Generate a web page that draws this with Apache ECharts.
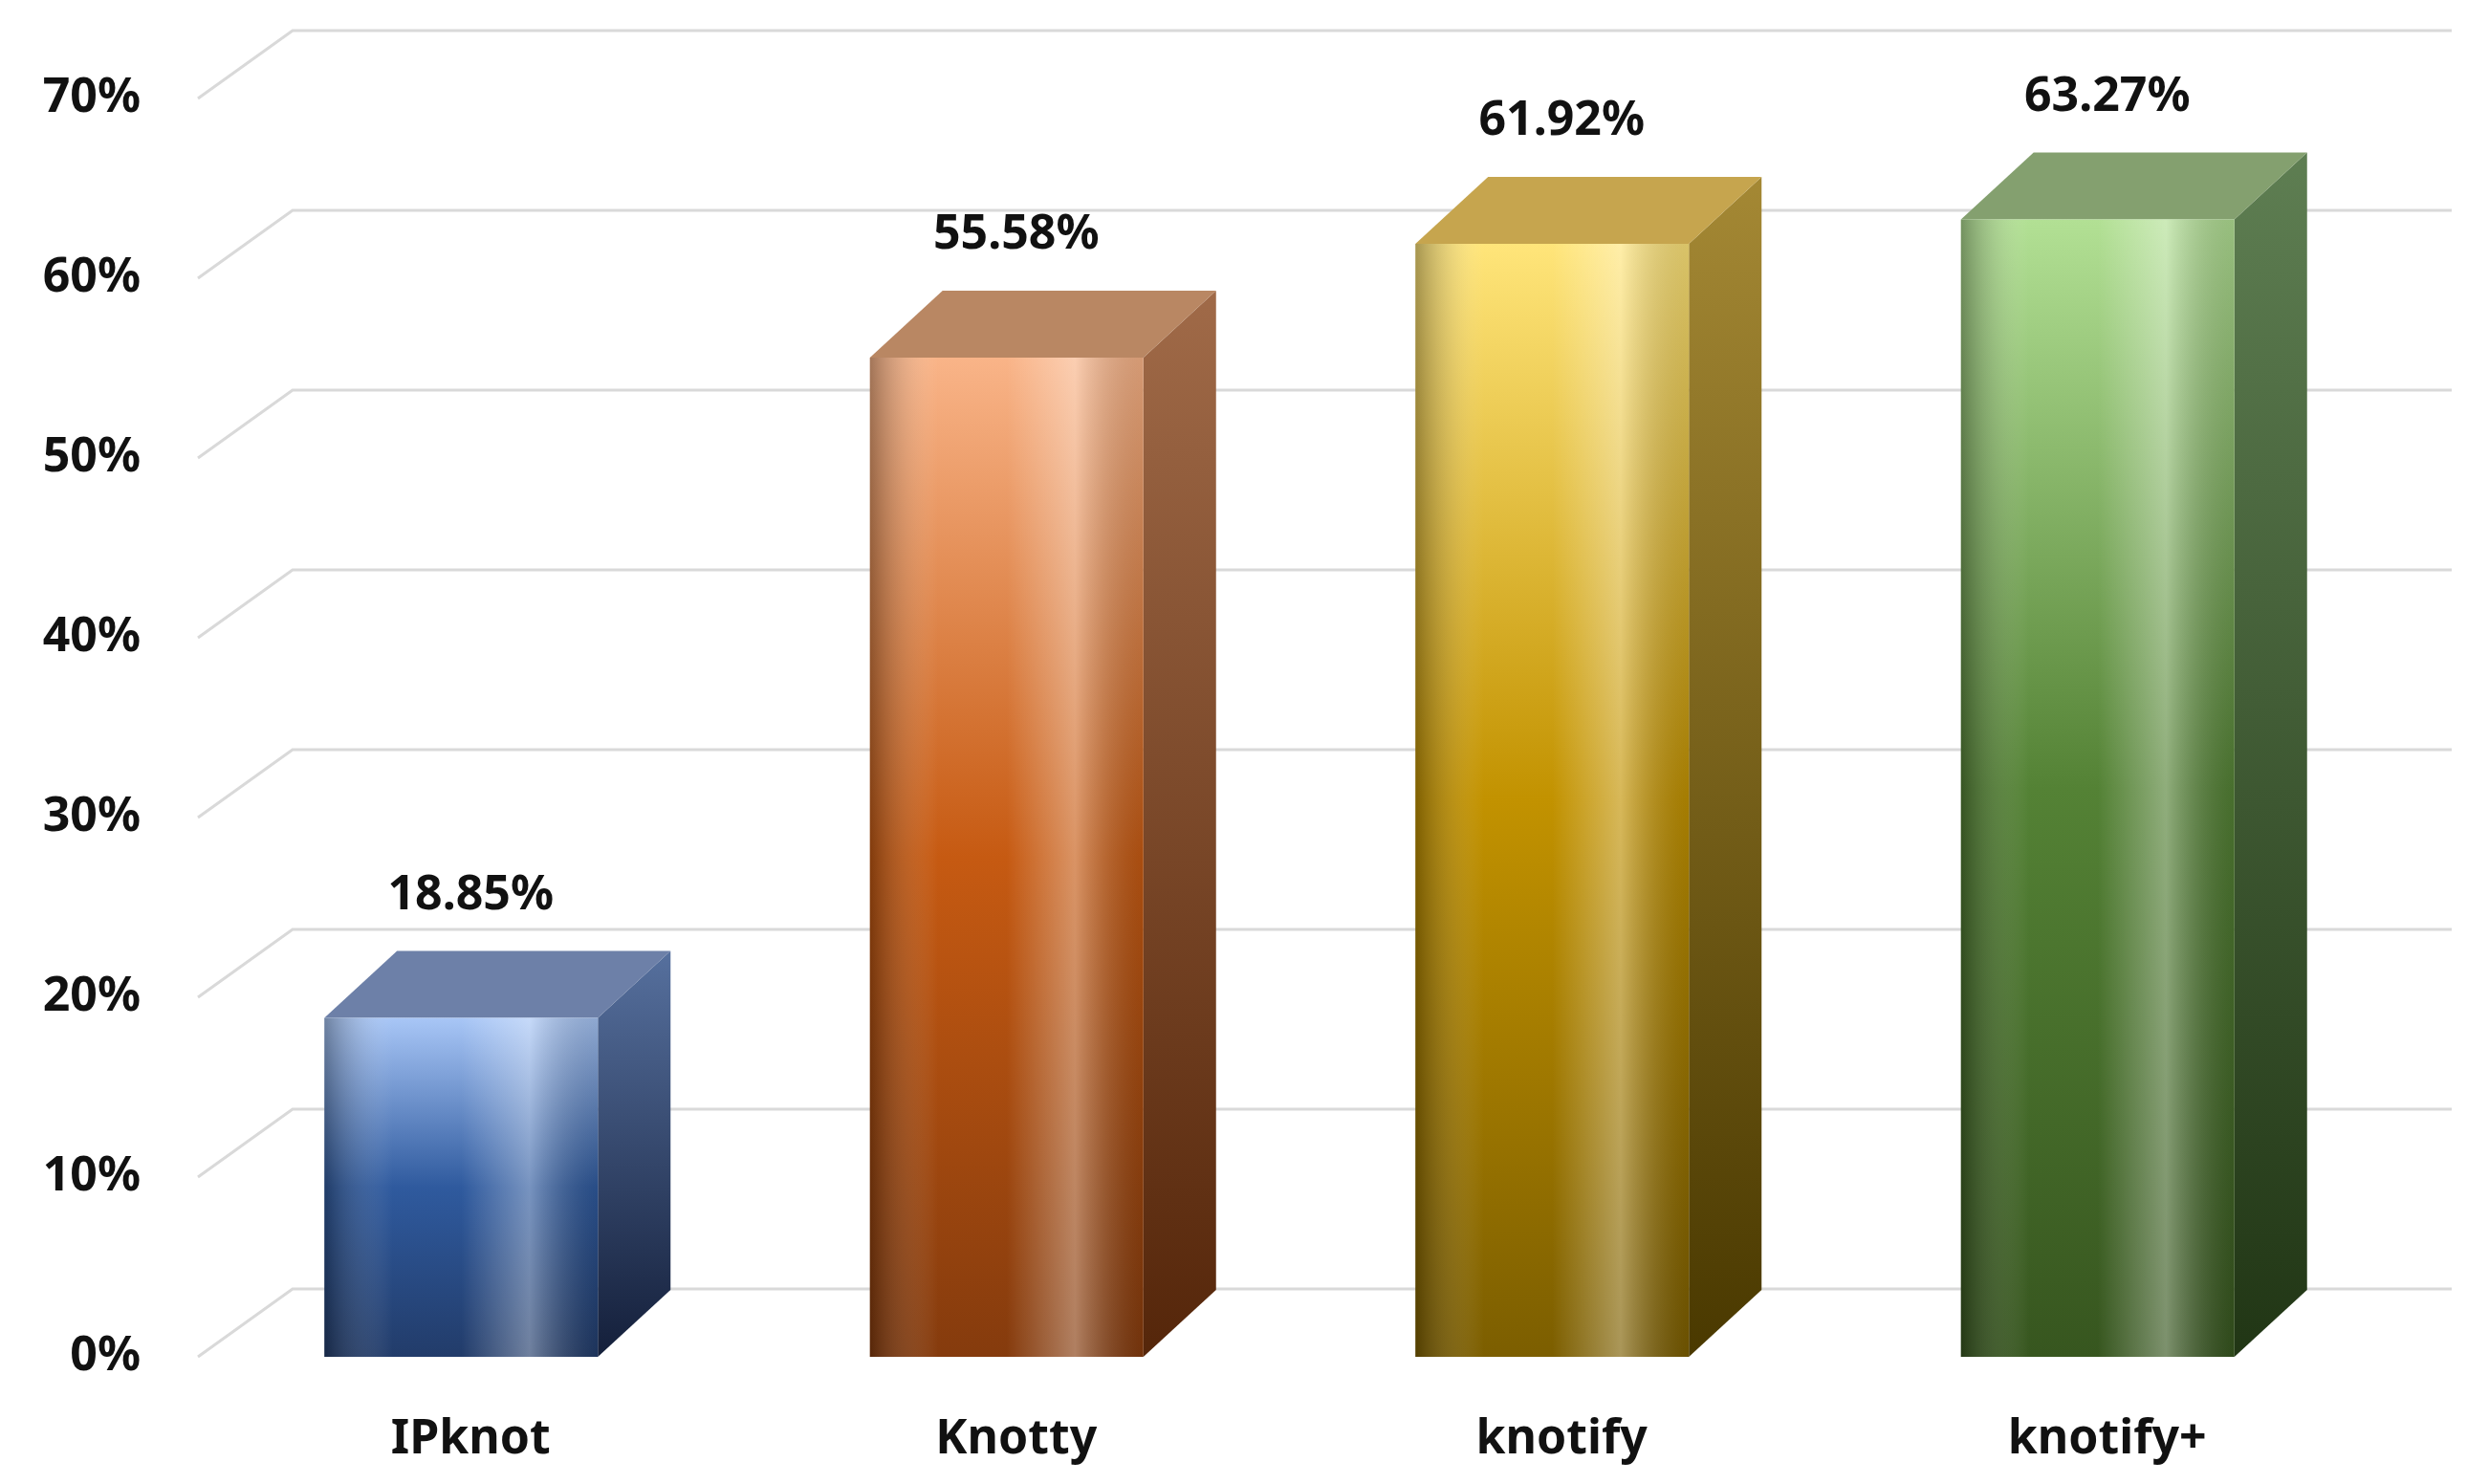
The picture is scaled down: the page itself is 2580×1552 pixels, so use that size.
<!DOCTYPE html>
<html>
<head>
<meta charset="utf-8">
<script src="https://cdn.jsdelivr.net/npm/echarts@6/dist/echarts.min.js"></script>
<style>html,body{margin:0;padding:0;background:#fff}#main{width:2580px;height:1552px}</style>
</head>
<body>
<div id="main"></div>
<script>
var categories = ['IPknot', 'Knotty', 'knotify', 'knotify+'];
var values = [18.85, 55.58, 61.92, 63.27];
var ticks = [0, 10, 20, 30, 40, 50, 60, 70];

// front top / mid / bottom, side top / bottom, top face
var palette = [
	['#a8c6f6', '#2f5a9e', '#223c6a', '#56709e', '#141f3a', '#6d80a8'],
	['#f9b488', '#c65a12', '#853b0d', '#a06a48', '#55260a', '#b98763'],
	['#ffe57a', '#c29200', '#7c5e00', '#a48834', '#4a3900', '#c6a54e'],
	['#b2e094', '#548235', '#37561f', '#5e7e52', '#213615', '#84a06f']
];

var FONT = '"Noto Sans", "DejaVu Sans", sans-serif';
var DX = 76, DY = -70, BW = 286;
var GDX = 99, GDY = -71;

var myChart = echarts.init(document.getElementById('main'));

function grad(x1, y1, x2, y2, stops){
	return new echarts.graphic.LinearGradient(x1, y1, x2, y2, stops.map(function(c, i){
		return {offset: i / (stops.length - 1), color: c};
	}));
}

var option = {
	backgroundColor: '#fff',
	animation: false,
	grid: {left: 207, right: 91, top: 103, bottom: 133},
	xAxis: {
		type: 'category',
		data: categories,
		axisLine: {show: false},
		axisTick: {show: false},
		axisLabel: {margin: 62, fontSize: 50, fontWeight: 'bold', color: '#111', fontFamily: FONT}
	},
	yAxis: {
		type: 'value',
		min: 0, max: 70, interval: 10,
		splitLine: {show: false},
		axisLine: {show: false},
		axisTick: {show: false},
		axisLabel: {margin: 60, fontSize: 50, fontWeight: 'bold', color: '#111', fontFamily: FONT,
			formatter: '{value}%'}
	},
	series: [{
		type: 'custom',
		z: 1,
		silent: true,
		data: ticks.map(function(t){ return [0, t]; }),
		renderItem: function(params, api){
			var cs = params.coordSys;
			var p = api.coord([0, api.value(1)]);
			var x = cs.x, y = p[1];
			return {
				type: 'polyline',
				shape: {points: [[x, y], [x + GDX, y + GDY], [cs.x + cs.width + 75, y + GDY]]},
				style: {stroke: '#d9d9d9', lineWidth: 3, fill: null}
			};
		}
	}, {
		type: 'custom',
		z: 2,
		data: values.map(function(v, i){ return [i, v]; }),
		renderItem: function(params, api){
			var i = api.value(0);
			var top = api.coord([i, api.value(1)]);
			var base = api.coord([i, 0]);
			var c = palette[i];
			var xl = top[0] - BW / 2 - 10, xr = xl + BW;
			var yt = top[1], yb = base[1];
			return {
				type: 'group',
				children: [{
					type: 'polygon',
					shape: {points: [[xr, yt], [xr + DX, yt + DY], [xr + DX, yb + DY], [xr, yb]]},
					style: {fill: grad(0, 0, 0, 1, [c[3], c[4]])}
				}, {
					type: 'polygon',
					shape: {points: [[xl, yt], [xl + DX, yt + DY], [xr + DX, yt + DY], [xr, yt]]},
					style: {fill: c[5]}
				}, {
					type: 'rect',
					shape: {x: xl, y: yt, width: BW, height: yb - yt},
					style: {fill: grad(0, 0, 0, 1, [c[0], c[1], c[2]])}
				}, {
					type: 'rect',
					shape: {x: xl, y: yt, width: BW, height: yb - yt},
					style: {fill: grad(0, 0, 1, 0, ['rgba(0,0,0,0.35)', 'rgba(255,255,255,0)', 'rgba(255,255,255,0)', 'rgba(255,255,255,0.35)', 'rgba(0,0,0,0.15)'])}
				}, {
					type: 'text',
					style: {
						text: api.value(1).toFixed(2) + '%',
						x: top[0], y: yt + DY - 58,
						align: 'center', verticalAlign: 'middle',
						font: 'bold 50px ' + FONT, fill: '#111'
					}
				}]
			};
		}
	}]
};

myChart.setOption(option);
</script>
</body>
</html>
